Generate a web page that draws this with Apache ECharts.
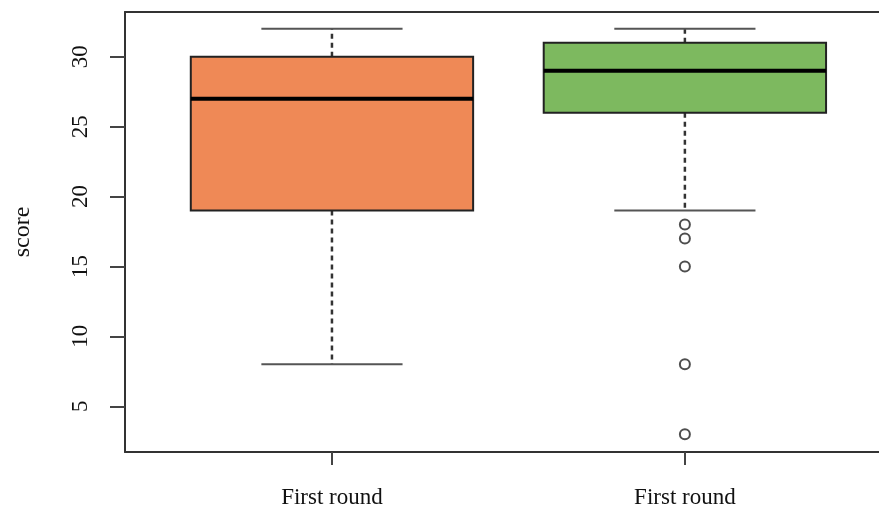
<!DOCTYPE html>
<html>
<head>
<meta charset="utf-8">
<script src="https://cdn.jsdelivr.net/npm/echarts@6/dist/echarts.min.js"></script>
<style>
  html, body { margin: 0; padding: 0; background: #fff; }
  #chart { width: 879px; height: 512px; }
</style>
</head>
<body>
<div id="chart"></div>
<script>
// box stats
const categories = ["First round", "First round"];
const whiskerLow = [8, 19];
const quartile1 = [19, 26];
const medians = [27, 29];
const quartile3 = [30, 31];
const whiskerHigh = [32, 32];
const outliers = [[], [18, 17, 15, 8, 3]];
const yTicks = [5, 10, 15, 20, 25, 30];

const boxColors = ["#ef8956", "#7db95f"];
const boxWidth = 0.8; // in x units, like R
const serif = "'Liberation Serif', 'DejaVu Serif', serif";
const xMin = 0.4136;
const xMax = 2.55;

const boxData = categories.map((c, i) => [
  i + 1, whiskerLow[i], quartile1[i], medians[i], quartile3[i], whiskerHigh[i]
]);
const outlierData = [];
outliers.forEach((list, i) => list.forEach((v) => outlierData.push([i + 1, v])));

function renderBox(params, api) {
  const x = api.value(0);
  const pLow = api.coord([x, api.value(1)]);
  const pQ1 = api.coord([x, api.value(2)]);
  const pMed = api.coord([x, api.value(3)]);
  const pQ3 = api.coord([x, api.value(4)]);
  const pHigh = api.coord([x, api.value(5)]);
  const half = api.size([boxWidth, 0])[0] / 2;
  const cap = half / 2;
  const cx = pMed[0];
  const dash = { stroke: "#333", lineWidth: 2.5, lineDash: [5, 4] };
  const capStyle = { stroke: "#555", lineWidth: 2 };
  return {
    type: "group",
    children: [
      { type: "line", shape: { x1: cx, y1: pQ3[1], x2: cx, y2: pHigh[1] }, style: dash },
      { type: "line", shape: { x1: cx, y1: pQ1[1], x2: cx, y2: pLow[1] }, style: dash },
      { type: "line", shape: { x1: cx - cap, y1: pHigh[1], x2: cx + cap, y2: pHigh[1] }, style: capStyle },
      { type: "line", shape: { x1: cx - cap, y1: pLow[1], x2: cx + cap, y2: pLow[1] }, style: capStyle },
      {
        type: "rect",
        shape: { x: cx - half, y: pQ3[1], width: half * 2, height: pQ1[1] - pQ3[1] },
        style: { fill: boxColors[params.dataIndex], stroke: "#222", lineWidth: 2 }
      },
      { type: "line", shape: { x1: cx - half, y1: pMed[1], x2: cx + half, y2: pMed[1] }, style: { stroke: "#000", lineWidth: 4 } }
    ]
  };
}

const frameLine = { show: true, lineStyle: { color: "#333", width: 2 } };

const chart = echarts.init(document.getElementById("chart"));
chart.setOption({
  backgroundColor: "#fff",
  animation: false,
  grid: { left: 125, top: 12, right: 0, bottom: 60 },
  xAxis: [
    {
      type: "value",
      min: xMin,
      max: xMax,
      axisLine: frameLine,
      splitLine: { show: false },
      axisTick: {
        customValues: [1, 2],
        length: 13,
        lineStyle: { color: "#444", width: 2 }
      },
      axisLabel: {
        customValues: [1, 2],
        formatter: (v) => categories[Math.round(v) - 1],
        margin: 34,
        color: "#111",
        fontFamily: serif,
        fontSize: 23
      }
    },
    {
      // top frame line only
      type: "value",
      position: "top",
      min: xMin,
      max: xMax,
      axisLine: frameLine,
      axisTick: { show: false },
      axisLabel: { show: false },
      splitLine: { show: false }
    }
  ],
  yAxis: {
    type: "value",
    min: 1.73,
    max: 33.2,
    name: "score",
    nameLocation: "middle",
    nameRotate: 90,
    nameGap: 90,
    nameTextStyle: { color: "#111", fontFamily: serif, fontSize: 24 },
    axisLine: frameLine,
    splitLine: { show: false },
    axisTick: {
      customValues: yTicks,
      length: 15,
      lineStyle: { color: "#444", width: 2 }
    },
    axisLabel: {
      customValues: yTicks,
      rotate: 90,
      margin: 33,
      color: "#111",
      fontFamily: serif,
      fontSize: 23
    }
  },
  series: [
    {
      type: "custom",
      renderItem: renderBox,
      encode: { x: 0, y: [1, 2, 3, 4, 5] },
      data: boxData
    },
    {
      type: "scatter",
      symbol: "emptyCircle",
      symbolSize: 10,
      itemStyle: { color: "#222", borderWidth: 2.5 },
      data: outlierData
    }
  ]
});
</script>
</body>
</html>
